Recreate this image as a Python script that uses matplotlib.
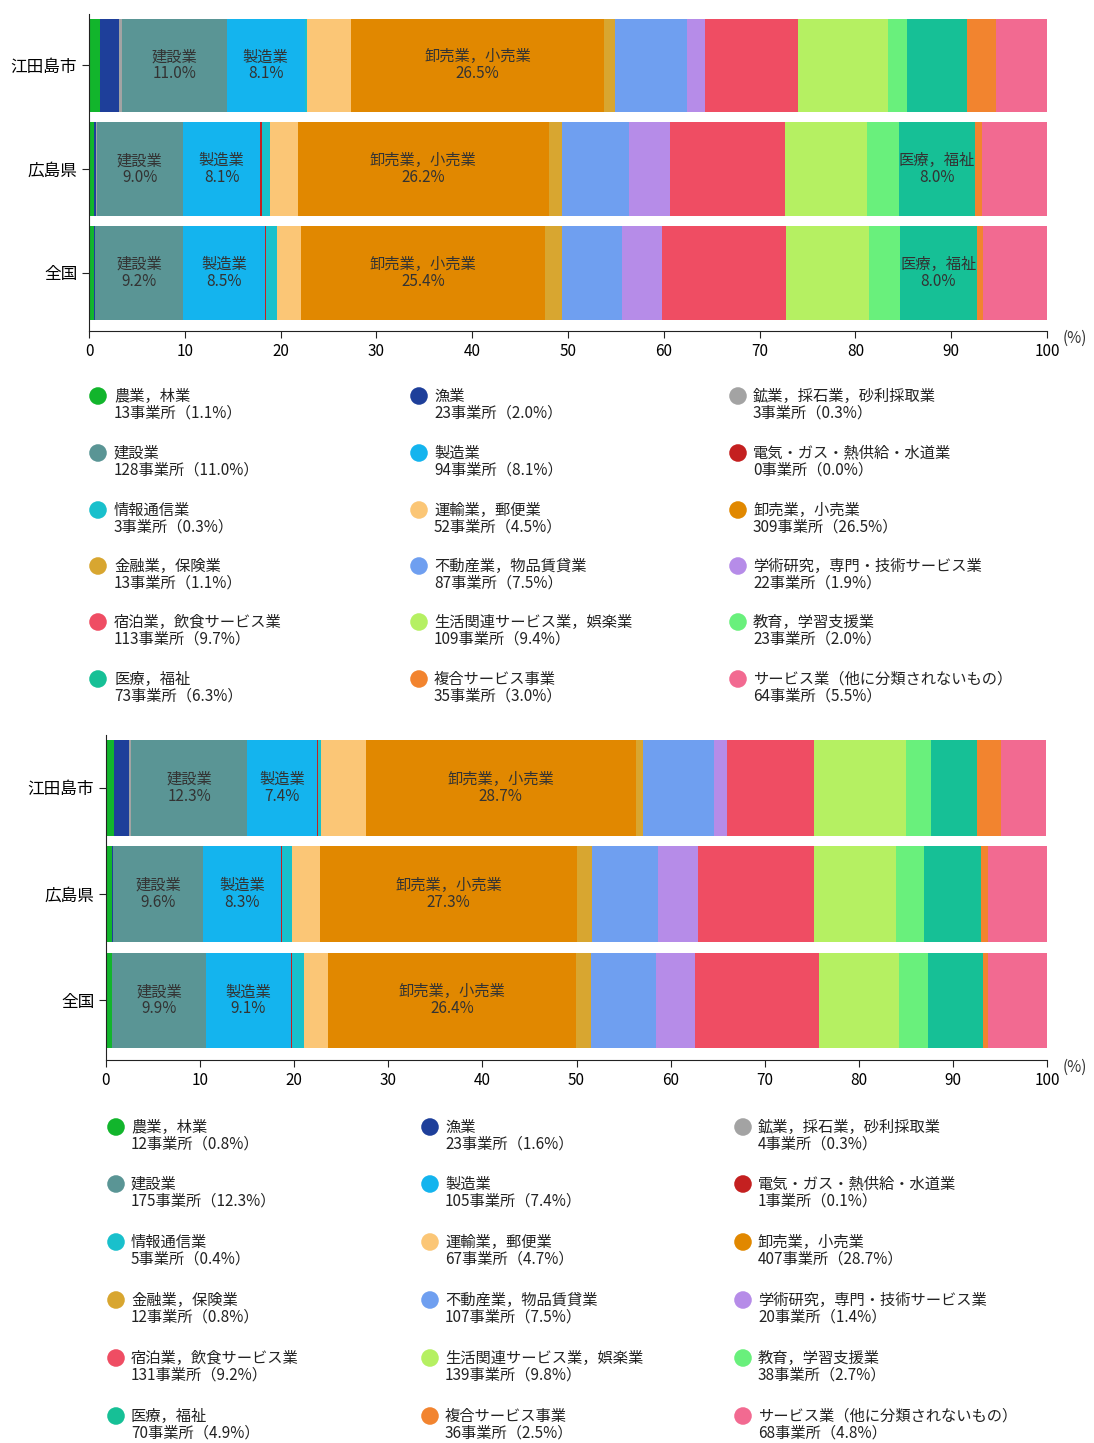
import matplotlib
matplotlib.use("Agg")
import matplotlib.pyplot as plt
import numpy as np

plt.rcParams["font.family"] = ["Noto Sans CJK JP", "DejaVu Sans"]

# 産業分類（積み上げ順）
categories = [
    "農業，林業", "漁業", "鉱業，採石業，砂利採取業", "建設業", "製造業",
    "電気・ガス・熱供給・水道業", "情報通信業", "運輸業，郵便業", "卸売業，小売業",
    "金融業，保険業", "不動産業，物品賃貸業", "学術研究，専門・技術サービス業",
    "宿泊業，飲食サービス業", "生活関連サービス業，娯楽業", "教育，学習支援業",
    "医療，福祉", "複合サービス事業", "サービス業（他に分類されないもの）",
]
short_names = ["", "", "", "建設業", "製造業", "", "", "", "卸売業，小売業",
               "", "", "", "", "", "", "医療，福祉", "", ""]
colors = [
    "#12b52c", "#1e3f9a", "#a3a3a3", "#5a9595", "#14b4ee", "#c42020",
    "#19c0cc", "#fbc676", "#e18800", "#d8a630", "#6f9ff0", "#b68ce8",
    "#ef4d63", "#b5f062", "#69f07c", "#16c096", "#f2842f", "#f26a91",
]
regions = ["江田島市", "広島県", "全国"]

# 上段
counts_1 = [13, 23, 3, 128, 94, 0, 3, 52, 309, 13, 87, 22, 113, 109, 23, 73, 35, 64]
etajima_1 = [1.1, 2.0, 0.3, 11.0, 8.1, 0.0, 0.3, 4.5, 26.5, 1.1, 7.5, 1.9, 9.7, 9.4, 2.0, 6.3, 3.0, 5.5]
hiroshima_1 = [0.5, 0.2, 0.1, 9.0, 8.1, 0.2, 0.8, 2.9, 26.2, 1.4, 7.0, 4.2, 12.0, 8.6, 3.3, 8.0, 0.7, 6.8]
zenkoku_1 = [0.5, 0.1, 0.05, 9.2, 8.5, 0.1, 1.2, 2.5, 25.4, 1.8, 6.3, 4.2, 12.9, 8.7, 3.2, 8.0, 0.7, 6.6]
labeled_1 = [[3, 4, 8], [3, 4, 8, 15], [3, 4, 8, 15]]

# 下段
counts_2 = [12, 23, 4, 175, 105, 1, 5, 67, 407, 12, 107, 20, 131, 139, 38, 70, 36, 68]
etajima_2 = [0.8, 1.6, 0.3, 12.3, 7.4, 0.1, 0.4, 4.7, 28.7, 0.8, 7.5, 1.4, 9.2, 9.8, 2.7, 4.9, 2.5, 4.8]
hiroshima_2 = [0.6, 0.1, 0.05, 9.6, 8.3, 0.1, 1.0, 3.0, 27.3, 1.6, 7.0, 4.3, 12.3, 8.7, 3.0, 6.0, 0.8, 6.2]
zenkoku_2 = [0.6, 0.05, 0.03, 9.9, 9.1, 0.1, 1.3, 2.5, 26.4, 1.6, 6.9, 4.1, 13.2, 8.5, 3.1, 5.8, 0.5, 6.3]
labeled_2 = [[3, 4, 8], [3, 4, 8], [3, 4, 8]]

W, H = 1094, 1443
fig = plt.figure(figsize=(W / 100, H / 100), dpi=100)


def draw_bars(rect, data, labeled):
    ax = fig.add_axes(rect)
    for r, vals in enumerate(data):
        left = 0.0
        for i, v in enumerate(vals):
            ax.barh(r, v, left=left, height=0.9, color=colors[i], edgecolor="none")
            if i in labeled[r]:
                ax.text(left + v / 2, r, f"{short_names[i]}\n{v:.1f}%",
                        ha="center", va="center", fontsize=11, color="#333333",
                        linespacing=1.0)
            left += v
    ax.set_xlim(0, 100)
    ax.set_ylim(2.56, -0.5)
    ax.set_yticks(range(len(regions)))
    ax.set_yticklabels(regions, fontsize=12)
    ax.set_xticks(np.arange(0, 101, 10))
    ax.tick_params(axis="x", labelsize=11, length=5, color="#222222")
    ax.tick_params(axis="y", length=5, color="#222222")
    for s in ["top", "right"]:
        ax.spines[s].set_visible(False)
    for s in ["left", "bottom"]:
        ax.spines[s].set_color("#222222")
    return ax


draw_bars([89 / W, 1 - 331 / H, (1047 - 89) / W, (331 - 13.5) / H],
          [etajima_1, hiroshima_1, zenkoku_1], labeled_1)
draw_bars([106 / W, 1 - 1060 / H, (1047 - 106) / W, (1060 - 734.5) / H],
          [etajima_2, hiroshima_2, zenkoku_2], labeled_2)

# 凡例（ピクセル座標のオーバーレイ）
ov = fig.add_axes([0, 0, 1, 1])
ov.set_xlim(0, W)
ov.set_ylim(H, 0)
ov.axis("off")
ov.patch.set_alpha(0)

ov.text(1063, 338, "(%)", fontsize=11, color="#333333", va="center")
ov.text(1063, 1067, "(%)", fontsize=11, color="#333333", va="center")


def draw_legend(marker_x, text_x, rows_y, counts, pcts):
    for i, name in enumerate(categories):
        col, row = i % 3, i // 3
        y = rows_y[row]
        ov.scatter(marker_x[col], y, s=160, color=colors[i], edgecolors="none")
        ov.text(text_x[col], y, name, fontsize=11, va="center", color="#222222")
        ov.text(text_x[col], y + 17, f"{counts[i]}事業所（{pcts[i]:.1f}%）",
                fontsize=11, va="center", color="#222222")


draw_legend([98, 419, 738], [114, 434, 753], [396, 453, 510, 566, 622, 679],
            counts_1, etajima_1)
draw_legend([116, 430, 743], [131, 445, 758], [1127, 1184, 1242, 1300, 1358, 1416],
            counts_2, etajima_2)

fig.savefig("out.png", dpi=100)
